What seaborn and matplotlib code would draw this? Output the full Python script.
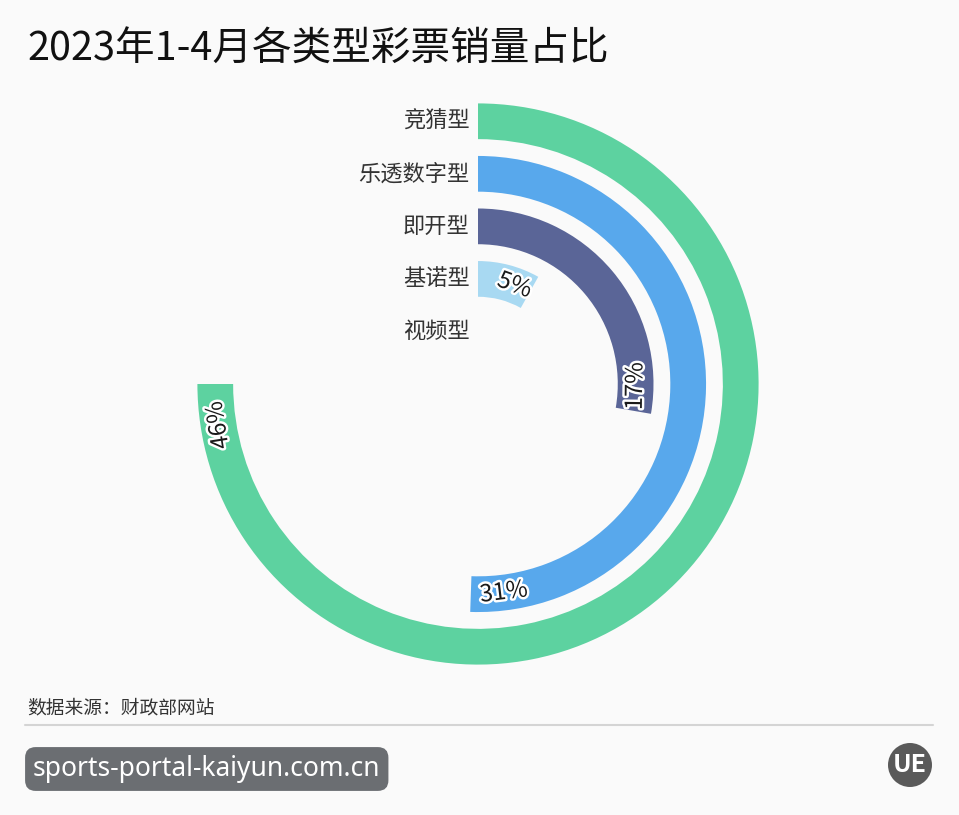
import numpy as np
import pandas as pd
import matplotlib
matplotlib.use("Agg")
import matplotlib.pyplot as plt
import matplotlib.patheffects as pe
from matplotlib.lines import Line2D
import seaborn as sns

# ---------------- data ----------------
categories = ["竞猜型", "乐透数字型", "即开型", "基诺型", "视频型"]
shares = [46, 31, 17, 5, 0]          # percent
pct_labels = ["46%", "31%", "17%", "5%", ""]
colors = ["#5dd2a0", "#58a8ec", "#5a6597", "#a8d9f2", "#dddddd"]
title = "2023年1-4月各类型彩票销量占比"
source = "数据来源：财政部网站"

# ---------------- style ----------------
sns.set_theme(style="white")
plt.rcParams["font.family"] = ["Noto Sans CJK SC", "DejaVu Sans"]
BG = "#fafafa"

# ring positions (outermost first) and angle scale: the largest share spans 270 degrees
ring = list(range(len(categories), 0, -1))
rad_per_pct = 1.5 * np.pi / max(shares)
df = pd.DataFrame({
    "cat": categories,
    "theta": [s * rad_per_pct for s in shares],
    "ring": ring,
})

fig = plt.figure(figsize=(9.59, 8.15), dpi=100, facecolor=BG)
ax = fig.add_axes([189 / 959, 142 / 815, 578 / 959, 578 / 815], projection="polar")
ax.set_facecolor("none")
ax.set_theta_zero_location("N")
ax.set_theta_direction(-1)

sns.barplot(data=df, x="theta", y="ring", hue="cat", palette=colors,
            orient="h", native_scale=True, dodge=False, width=0.68,
            saturation=1, errorbar=None, legend=False, ax=ax, linewidth=0)

ax.set_ylim(0, 5.5)
ax.set_xlim(0, 2 * np.pi)
ax.grid(False)
ax.set_xticks([])
ax.set_yticks([])
ax.spines["polar"].set_visible(False)
ax.set_xlabel("")
ax.set_ylabel("")

# category labels at the start of each ring
for cat, r in zip(categories, ring):
    ax.annotate(cat, xy=(0, r), xytext=(-6, 0), textcoords="offset points",
                ha="right", va="center", fontsize=16, color="#333333")

# percent labels near the end of each bar, following the arc
offset = np.deg2rad(9)
for lab, s, r in zip(pct_labels, shares, ring):
    if not lab:
        continue
    th = s * rad_per_pct - offset
    cw_deg = np.rad2deg(th)
    math_deg = 90 - cw_deg
    rot = (math_deg + 90) % 180
    if rot > 120:
        rot -= 180
    ax.text(th, r, lab, rotation=rot, rotation_mode="anchor", ha="center", va="center",
            fontsize=17, color="#1a1a1a",
            path_effects=[pe.withStroke(linewidth=3.5, foreground="white")])

# title, source, footer
fig.text(27 / 959, 1 - 50 / 815, title, fontsize=28.5, color="#111111", va="center", ha="left")
fig.text(27 / 959, 1 - 708 / 815, source, fontsize=13.5, color="#333333", va="center", ha="left")
fig.add_artist(Line2D([25 / 959, 933 / 959], [1 - 725 / 815, 1 - 725 / 815],
                      transform=fig.transFigure, color="#d4d4d4", lw=1.5))
fig.text(33 / 959, 1 - 769 / 815, "sports-portal-kaiyun.com.cn", fontsize=19,
         family=["Noto Sans", "DejaVu Sans"], color="white", va="center", ha="left",
         bbox=dict(boxstyle="round,pad=0.3,rounding_size=0.4", fc="#6b6e72", ec="none"))
fig.text(910 / 959, 1 - 765 / 815, "UE", fontsize=18, fontweight="bold", color="white",
         va="center", ha="center",
         bbox=dict(boxstyle="circle,pad=0.2", fc="#5a5a5a", ec="none"))

fig.savefig("out.png", dpi=100, facecolor=BG)
